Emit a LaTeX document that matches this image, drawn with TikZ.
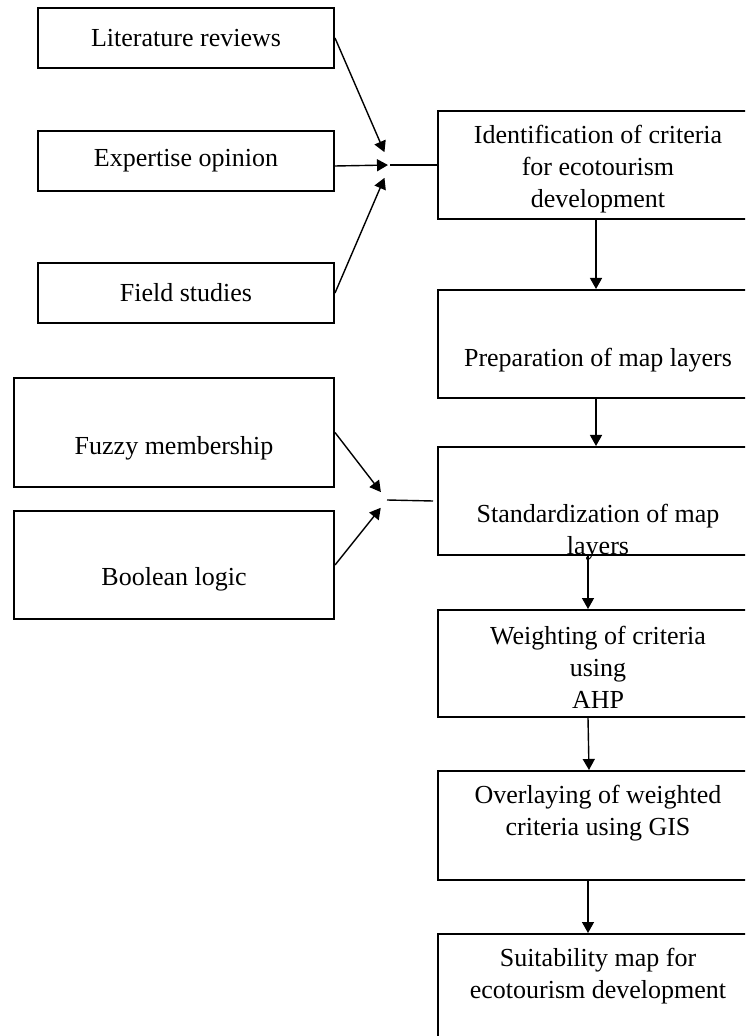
\documentclass[tikz,border=0pt]{standalone}
\usepackage{fontspec}
\setmainfont{Liberation Serif}
\usetikzlibrary{arrows.meta}
\tikzset{%
  box/.style  = {draw, line width=1pt, inner sep=0pt, anchor=north west},%
  wide/.style = {box, minimum width=160pt, minimum height=54pt},%
  txt/.style  = {align=center, inner sep=0pt,%
                 font=\fontsize{13}{16}\selectfont},%
  flow/.style = {line width=0.7pt, -{Triangle[length=5.5pt,width=6pt]}}%
}

\begin{document}
\begin{tikzpicture}[x=0.5pt,y=-0.5pt]
\useasboundingbox (0,0) rectangle (745,1036);
\clip (0,0) rectangle (745,1036);
	% sources of the criteria
	\node [box, minimum width=148pt, minimum height=30pt] (lit) at (37,7) {};
	\node [txt] (lit-t) at (lit) {Literature reviews};
	\node [box, minimum width=148pt, minimum height=30pt] (exp) at (37,130) {};
	\node [txt] (exp-t) at (exp) {Expertise opinion};
	\node [box, minimum width=148pt, minimum height=30pt] (field) at (37,262) {};
	\node [txt] (field-t) at (field) {Field studies};
	% standardization methods
	\node [box, minimum width=160pt, minimum height=54.5pt] (fuzzy) at (13,377) {};
	\node [txt] (fuzzy-t) at ([yshift=-8pt]fuzzy.center) {Fuzzy membership};
	\node [box, minimum width=160pt, minimum height=54pt] (bool) at (13,510) {};
	\node [txt] (bool-t) at ([yshift=-7pt]bool.center) {Boolean logic};
	% main steps
	\node [wide] (ident) at (437,110) {};
	\node [txt] (ident-t) at ([yshift=-2pt]ident.center)
		{Identification of criteria\\for ecotourism\\development};
	\node [wide] (prep) at (437,289) {};
	\node [txt] (prep-t) at ([yshift=-8pt]prep.center) {Preparation of map layers};
	\node [wide] (stand) at (437,446) {};
	\node [txt] (stand-t) at ([yshift=-15.5pt]stand.center)
		{Standardization of map\\layers};
	\node [wide, minimum height=53.5pt] (weight) at (437,609) {};
	\node [txt] (weight-t) at ([yshift=-2pt]weight.center)
		{Weighting of criteria\\using\\AHP};
	\node [wide, minimum height=54.5pt] (overlay) at (437,770) {};
	\node [txt] (overlay-t) at ([yshift=6pt]overlay.center)
		{Overlaying of weighted\\criteria using GIS};
	\node [wide] (suit) at (437,933) {};
	\node [txt] (suit-t) at ([yshift=6pt]suit.center)
		{Suitability map for\\ecotourism development};
	% meeting points
	\coordinate (hub1) at (390,165);
	\coordinate (hub2) at (387,500);
	\draw [flow, shorten >=7pt] (lit.east) -- (hub1);
	\draw [flow, shorten >=1pt] ([yshift=-2.5pt]exp.east) -- (hub1);
	\draw [flow, shorten >=7pt] (field.east) -- (hub1);
	\draw [line width=0.7pt] (hub1) -- (ident.west);
	\draw [flow, shorten >=5pt] (fuzzy.east) -- (hub2);
	\draw [flow, shorten >=5pt] (bool.east) -- (hub2);
	\draw [line width=0.7pt] (hub2) -- ([xshift=-2pt]stand.west);
	% steps downwards
	\draw [flow] ([xshift=-1pt]ident.south) -- ([xshift=-1pt]prep.north);
	\draw [flow] ([xshift=-1pt]prep.south) -- ([xshift=-1pt]stand.north);
	\draw [flow] ([xshift=-5pt]stand.south) -- ([xshift=-5pt]weight.north);
	\draw [flow] ([xshift=-5pt]weight.south) -- ([xshift=-4.5pt]overlay.north);
	\draw [flow] ([xshift=-5pt]overlay.south) -- ([xshift=-5pt]suit.north);
\end{tikzpicture}
\end{document}
